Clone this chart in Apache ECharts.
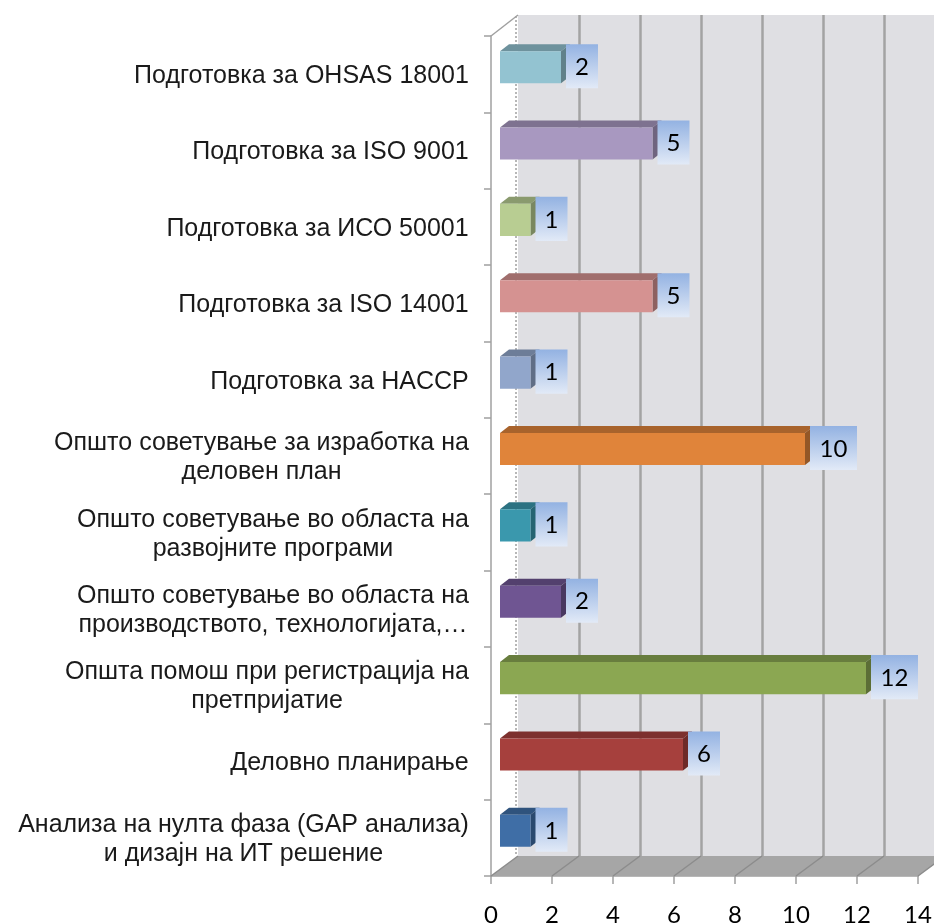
<!DOCTYPE html>
<html><head><meta charset="utf-8">
<script src="https://cdn.jsdelivr.net/npm/echarts@6/dist/echarts.min.js"></script>
<style>html,body{margin:0;padding:0;background:#fff}#c{width:934px;height:924px}</style>
</head><body><div id="c"></div>
<script>
// ---- data ----
const categories = [
  'Подготовка за OHSAS 18001',
  'Подготовка за ISO 9001',
  'Подготовка за ИСО 50001',
  'Подготовка за ISO 14001',
  'Подготовка за HACCP',
  'Општо советување за изработка на\nделовен план',
  'Општо советување во областа на\nразвојните програми',
  'Општо советување во областа на\nпроизводството, технологијата,…',
  'Општа помош при регистрација на\nпретпријатие',
  'Деловно планирање',
  'Анализа на нулта фаза (GAP анализа)\nи дизајн на ИТ решение'
];
const values = [2, 5, 1, 5, 1, 10, 1, 2, 12, 6, 1];
const barColors = ['#93c3d1','#a898c0','#b8cd92','#d59291','#91a6cb','#e0843a','#3a98ad','#6f5592','#8ba752','#a6403d','#3f6ea6'];
const xMin = 0, xMax = 14, xStep = 2;
const xTickLabels = ['0','2','4','6','8','10','12','14'];

// ---- styling helpers ----
const CAT_FONT = 25, CAT_FAMILY = '"Liberation Sans", Arial, sans-serif';
const NUM_FAMILY = 'Lato, "Open Sans", sans-serif';
const D = [27, -20];          // depth of the 3D box
const BD = [9, -7];           // bar offset / bar depth
const PLOT_W = 427, BACK_W = 416; // back wall is cut by the right page edge

function shade(hex, f) {
  const n = parseInt(hex.slice(1), 16);
  const r = Math.round(((n >> 16) & 255) * f), g = Math.round(((n >> 8) & 255) * f), b = Math.round((n & 255) * f);
  return 'rgb(' + r + ',' + g + ',' + b + ')';
}
const mctx = document.createElement('canvas').getContext('2d');
mctx.font = CAT_FONT + 'px ' + CAT_FAMILY;
const rich = {};
categories.forEach((c, i) => {
  const w = Math.max.apply(null, c.split('\n').map(s => mctx.measureText(s).width));
  rich['l' + i] = { width: Math.ceil(w) + 2, align: 'center', fontSize: CAT_FONT, fontFamily: CAT_FAMILY, color: '#1a1a1a', lineHeight: 29 };
});

const chart = echarts.init(document.getElementById('c'), null, { renderer: 'canvas' });

function renderDecor(params, api) {
  const a = api.coord([xMin, 0]);
  const band = api.size([0, 1])[1];
  const top = a[1] - band / 2;
  const bottom = top + band * categories.length;
  const xl = a[0];
  const xr = api.coord([xMax, 0])[0];
  const ch = [];
  ch.push({ type: 'polygon', shape: { points: [[xl, bottom], [xr, bottom], [xr + D[0], bottom + D[1]], [xl + D[0], bottom + D[1]]] },
    style: { fill: '#a6a6a6' } });
  for (let t = xMin; t <= xMax; t += xStep) {
    const x = api.coord([t, 0])[0];
    ch.push({ type: 'line', shape: { x1: x, y1: bottom, x2: x + D[0], y2: bottom + D[1] }, style: { stroke: '#8c8c8c', lineWidth: 1.5 } });
  }
  ch.push({ type: 'line', shape: { x1: xl, y1: top, x2: xl + D[0], y2: top + D[1] - 1 }, style: { stroke: '#a0a0a0', lineWidth: 1.5 } });
  ch.push({ type: 'line', shape: { x1: xl + D[0] - 2, y1: top + D[1], x2: xl + D[0] - 2, y2: bottom + D[1] }, style: { stroke: '#a0a0a0', lineWidth: 1.5, lineDash: [2, 2] } });
  return { type: 'group', children: ch };
}

function renderBar(params, api) {
  const v = api.value(0), ci = api.value(1);
  const p0 = api.coord([0, ci]);
  const p1 = api.coord([v, ci]);
  const band = api.size([0, 1])[1];
  const h = band * 0.42;
  const x0 = p0[0] + BD[0], x1 = p1[0] + BD[0];
  const yc = p0[1] + BD[1];
  const yt = yc - h / 2, yb = yc + h / 2;
  const col = barColors[params.dataIndex];
  const txt = String(v);
  const bw = txt.length > 1 ? 47 : 32;
  const bx = x1 + 5, by = yt + BD[1], bh = h + 12;
  return {
    type: 'group',
    children: [
      { type: 'polygon', shape: { points: [[x0, yt], [x1, yt], [x1 + BD[0], yt + BD[1]], [x0 + BD[0], yt + BD[1]]] }, style: { fill: shade(col, 0.75) } },
      { type: 'polygon', shape: { points: [[x1, yt], [x1 + BD[0], yt + BD[1]], [x1 + BD[0], yb + BD[1]], [x1, yb]] }, style: { fill: shade(col, 0.66) } },
      { type: 'rect', shape: { x: x0, y: yt, width: x1 - x0, height: h }, style: { fill: col } },
      { type: 'rect', shape: { x: bx, y: by, width: bw, height: bh },
        style: { fill: new echarts.graphic.LinearGradient(0, 0, 0, 1, [{ offset: 0, color: '#93b2e2' }, { offset: 1, color: '#e2eaf7' }]) } },
      { type: 'text', style: { text: txt, x: bx + bw / 2, y: by + bh / 2 + 1, align: 'center', verticalAlign: 'middle',
        fontSize: 24, fontFamily: NUM_FAMILY, fill: '#000' } }
    ]
  };
}

chart.setOption({
  animation: false,
  backgroundColor: '#ffffff',
  grid: [
    { left: 491, top: 36, width: PLOT_W, height: 840, containLabel: false, outerBoundsMode: 'none' },
    { left: 491 + D[0], top: 36 + D[1] - 1, width: BACK_W, height: 841, show: true, backgroundColor: '#dfdfe3', borderWidth: 0, outerBoundsMode: 'none' }
  ],
  xAxis: [
    { gridIndex: 0, type: 'value', min: xMin, max: xMax, interval: xStep,
      axisLine: { show: true, lineStyle: { color: '#a0a0a0', width: 1.5 } },
      axisTick: { show: true, length: 8, lineStyle: { color: '#a0a0a0', width: 1.5 } },
      axisLabel: { margin: 27, fontSize: 24, fontFamily: NUM_FAMILY, color: '#000',
        formatter: (val) => xTickLabels[Math.round((val - xMin) / xStep)] },
      splitLine: { show: false } },
    { gridIndex: 1, type: 'value', min: xMin, max: xMax * BACK_W / PLOT_W, interval: xStep,
      axisLine: { show: false }, axisTick: { show: false }, axisLabel: { show: false },
      splitLine: { show: true, showMinLine: false, showMaxLine: false, lineStyle: { color: '#a3a3a3', width: 2.5 } } }
  ],
  yAxis: [
    { gridIndex: 0, type: 'category', data: categories, inverse: true,
      axisLine: { show: true, lineStyle: { color: '#a0a0a0', width: 1.5 } },
      axisTick: { show: true, length: 7, lineStyle: { color: '#a0a0a0', width: 1.5 } },
      axisLabel: { margin: 21, rich: rich, padding: [4, 0, 0, 0],
        formatter: (val, idx) => val.split('\n').map(s => '{l' + idx + '|' + s + '}').join('\n') },
      splitLine: { show: false } },
    { gridIndex: 1, type: 'value', show: false, min: 0, max: 1 }
  ],
  series: [
    { type: 'custom', xAxisIndex: 0, yAxisIndex: 0, data: [[0, 0]], renderItem: renderDecor, z: 1, silent: true },
    { type: 'custom', xAxisIndex: 0, yAxisIndex: 0, data: values.map((v, i) => [v, i]), encode: { x: 0, y: 1 },
      renderItem: renderBar, z: 3 }
  ]
});
</script>
</body></html>
